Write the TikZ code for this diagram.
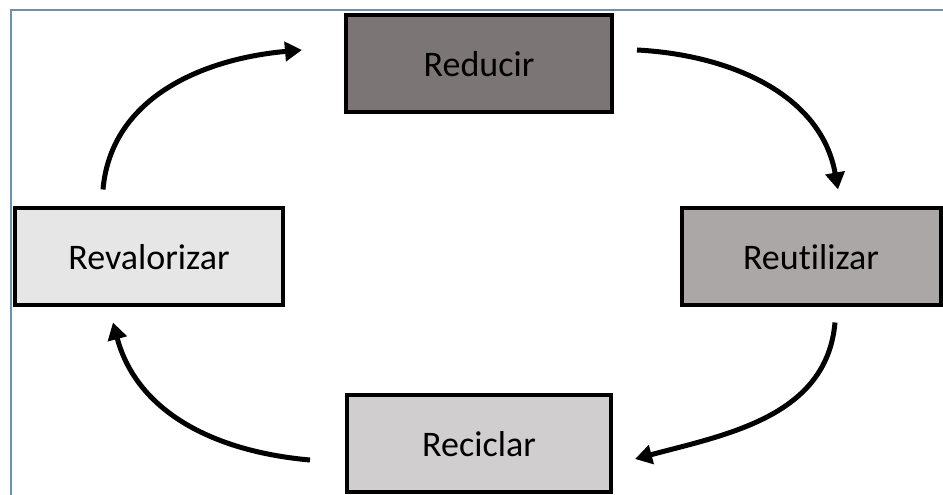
\documentclass[tikz,border=0pt]{standalone}
\usepackage{fontspec}
\setmainfont[Ligatures=CommonOff]{Carlito}
\usetikzlibrary{arrows.meta}
\definecolor{frameblue}{RGB}{112,142,176}
\definecolor{boxdark}{RGB}{123,117,117}
\definecolor{boxmid}{RGB}{171,167,166}
\definecolor{boxlight}{RGB}{208,206,206}
\definecolor{boxpale}{RGB}{230,230,230}
\tikzset{
	box node/.style={rectangle, draw, line width=4pt, minimum height=97pt, font=\fontsize{36}{43}\selectfont},
	dark node/.style={box node, fill=boxdark, minimum width=266pt},
	mid node/.style={box node, fill=boxmid, minimum width=259pt},
	light node/.style={box node, fill=boxlight, minimum width=264pt},
	pale node/.style={box node, fill=boxpale, minimum width=268pt},
	cycle arrow/.style={line width=5pt, -{Triangle[length=17pt,width=19pt]}},
}

\begin{document}
\begin{tikzpicture}[x=1pt, y=1pt]
  \useasboundingbox (0,0) rectangle (943,495);
  \draw[frameblue, line width=2pt] (11,0) |- (943,485);

  \node[dark node] (reducir) at (479,431) {Reducir};
  \node[mid node] (reutilizar) at (811,238) {Reutilizar};
  \node[light node] (reciclar) at (479,51) {Reciclar};
  \node[pale node] (revalorizar) at (149,238) {Revalorizar};

  \draw[cycle arrow] ([xshift=-46pt,yshift=17pt]revalorizar.north) to[out=85, in=185]
    ([xshift=-42pt,yshift=14pt]reducir.west);
  \draw[cycle arrow] ([xshift=23pt,yshift=14pt]reducir.east) to[out=-3, in=100]
    ([xshift=27pt,yshift=17pt]reutilizar.north);
  \draw[cycle arrow] ([xshift=24pt,yshift=-15pt]reutilizar.south) to[out=-95, in=15]
    ([xshift=22pt,yshift=-15pt]reciclar.east);
  \draw[cycle arrow] ([xshift=-35pt,yshift=-16pt]reciclar.west) to[out=175, in=-75]
    ([xshift=-36pt,yshift=-15pt]revalorizar.south);
\end{tikzpicture}
\end{document}
